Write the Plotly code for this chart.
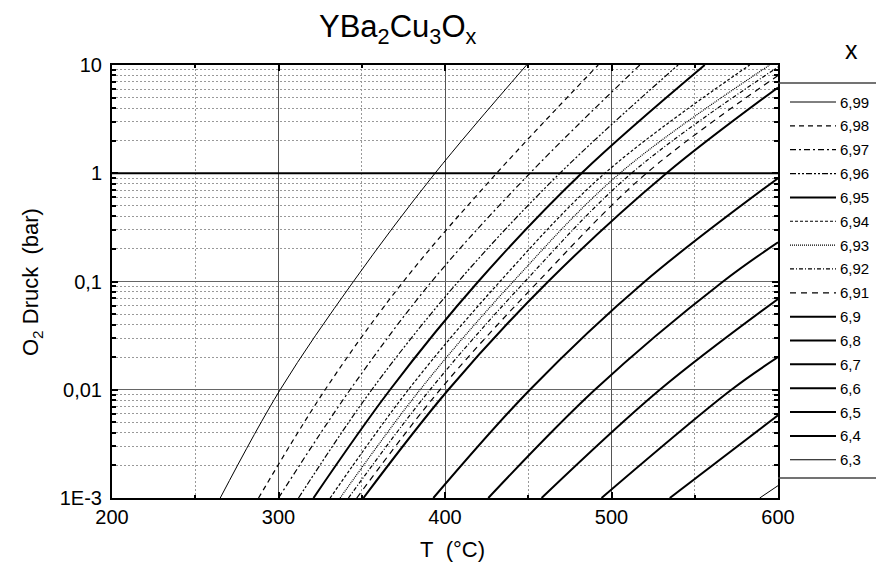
import plotly.graph_objects as go

# ---------------- data ----------------
labels = ["6,99", "6,98", "6,97", "6,96", "6,95", "6,94", "6,93", "6,92",
          "6,91", "6,9", "6,8", "6,7", "6,6", "6,5", "6,4", "6,3"]

P_dec = [0.001, 0.01, 0.1, 1, 10]

T_699 = [265, 301, 345, 394, 449]
T_698 = [288, 328, 375, 431, 492]
T_697 = [300, 343, 392, 451, 517]
T_696 = [312, 356, 408, 469, 540]
T_695 = [321, 367, 420, 482, 556]
T_694 = [331, 378, 433, 496, 583]
T_693 = [337, 385, 441, 505, 595]
T_692 = [342, 391, 448, 512, 600]
P_692 = [0.001, 0.01, 0.1, 1, 9.6]
T_691 = [347, 397, 456, 521, 600]
P_691 = [0.001, 0.01, 0.1, 1, 8.0]
T_690 = [351, 402, 462, 533, 600]
P_690 = [0.001, 0.01, 0.1, 1, 6.2]
T_68 = [393, 451, 520, 600]
P_68 = [0.001, 0.01, 0.1, 0.9]
T_67 = [426, 490, 567, 600]
P_67 = [0.001, 0.01, 0.1, 0.23]
T_66 = [458, 529, 600]
P_66 = [0.001, 0.01, 0.069]
T_65 = [494, 572, 600]
P_65 = [0.001, 0.01, 0.02]
T_64 = [535, 600]
P_64 = [0.001, 0.0058]
T_63 = [589, 600]
P_63 = [0.001, 0.0013]

x_ticks = [200, 300, 400, 500, 600]
x_minor = [250, 350, 450, 550]
y_ticks = [0.001, 0.01, 0.1, 1, 10]
y_ticktext = ["1E-3", "0,01", "0,1", "1", "10"]

# ---------------- styles ----------------
series = [
    (T_699, P_dec, "solid", 1.0),
    (T_698, P_dec, "5px,4px", 1.2),
    (T_697, P_dec, "6px,3px,2px,3px", 1.2),
    (T_696, P_dec, "6px,2px,2px,2px,2px,2px", 1.2),
    (T_695, P_dec, "solid", 2.0),
    (T_694, P_dec, "3px,2px", 1.2),
    (T_693, P_dec, "1px,1px", 1.2),
    (T_692, P_692, "4px,2px,1px,2px", 1.2),
    (T_691, P_691, "6px,5px", 1.2),
    (T_690, P_690, "solid", 2.0),
    (T_68, P_68, "solid", 2.0),
    (T_67, P_67, "solid", 2.0),
    (T_66, P_66, "solid", 2.0),
    (T_65, P_65, "solid", 2.0),
    (T_64, P_64, "solid", 2.0),
    (T_63, P_63, "solid", 1.0),
]

FONT = "Arial, Liberation Sans, sans-serif"
W, H = 876, 574
L, R, T, B = 112, 98, 65, 76
pw, ph = W - L - R, H - T - B


def px2x(px):
    return (px - L) / pw


def py2y(py):
    return (H - B - py) / ph


fig = go.Figure()
for (tx, py, dash, w), name in zip(series, labels):
    fig.add_trace(go.Scatter(x=tx, y=py, mode="lines", name=name,
                             line=dict(color="black", width=w, dash=dash,
                                       shape="spline", smoothing=1.0),
                             showlegend=False, hoverinfo="skip"))

shapes = []
annotations = []

# bold reference line at 1 bar
shapes.append(dict(type="line", xref="paper", yref="y", x0=0, x1=1, y0=1, y1=1,
                   line=dict(color="black", width=2)))

# legend box (top, bottom)
top_y, bot_y = py2y(83), py2y(478)
shapes.append(dict(type="line", xref="paper", yref="paper", x0=1, x1=1.2, y0=top_y, y1=top_y,
                   line=dict(color="#444", width=1.5)))
shapes.append(dict(type="line", xref="paper", yref="paper", x0=1, x1=1.2, y0=bot_y, y1=bot_y,
                   line=dict(color="#444", width=1.5)))

for i, ((tx, py, dash, w), name) in enumerate(zip(series, labels)):
    yy = py2y(102 + i * 23.85)
    shapes.append(dict(type="line", xref="paper", yref="paper",
                       x0=px2x(790), x1=px2x(836), y0=yy, y1=yy,
                       line=dict(color="black", width=w, dash=dash)))
    annotations.append(dict(x=px2x(838), y=yy, xref="paper", yref="paper",
                            text=name, showarrow=False, xanchor="left", yanchor="middle",
                            font=dict(family=FONT, size=15, color="black")))

# title
annotations.append(dict(x=px2x(398), y=py2y(29), xref="paper", yref="paper",
                        text="YBa<sub>2</sub>Cu<sub>3</sub>O<sub>x</sub>", showarrow=False,
                        xanchor="center", yanchor="middle",
                        font=dict(family=FONT, size=31, color="black")))
# legend header "x"
annotations.append(dict(x=px2x(851), y=py2y(50), xref="paper", yref="paper",
                        text="x", showarrow=False, xanchor="center", yanchor="middle",
                        font=dict(family=FONT, size=25, color="black")))
# axis titles
annotations.append(dict(x=px2x(32), y=py2y(282), xref="paper", yref="paper",
                        text="O<sub>2</sub> Druck\u00a0\u00a0(bar)", showarrow=False,
                        textangle=-90, xanchor="center", yanchor="middle",
                        font=dict(family=FONT, size=22, color="black")))
annotations.append(dict(x=px2x(452), y=py2y(549), xref="paper", yref="paper",
                        text="T\u00a0\u00a0(°C)", showarrow=False,
                        xanchor="center", yanchor="middle",
                        font=dict(family=FONT, size=22, color="black")))

y_minor = [k * 10.0 ** e for e in range(-3, 1) for k in range(2, 10)]

fig.update_layout(
    width=W, height=H,
    margin=dict(l=L, r=R, t=T, b=B),
    paper_bgcolor="white", plot_bgcolor="white",
    showlegend=False,
    shapes=shapes, annotations=annotations,
    font=dict(family=FONT, color="black"),
    xaxis=dict(range=[200, 600], tickvals=x_ticks, ticks="inside", ticklen=6, tickwidth=2,
               tickcolor="black", showline=True, linecolor="black", linewidth=2, mirror="allticks",
               showgrid=True, gridcolor="#555", gridwidth=1.3,
               tickfont=dict(family=FONT, size=20, color="black"),
               zeroline=False,
               minor=dict(tickvals=x_minor, ticks="inside", ticklen=3, tickcolor="black",
                          showgrid=True, gridcolor="#999", griddash="2px,2px", gridwidth=1)),
    yaxis=dict(type="log", range=[-3, 1], tickvals=y_ticks, ticktext=y_ticktext,
               ticks="inside", ticklen=6, tickwidth=2, tickcolor="black",
               showline=True, linecolor="black", linewidth=2, mirror="allticks",
               showgrid=True, gridcolor="#666", gridwidth=1.2,
               tickfont=dict(family=FONT, size=20, color="black"),
               ticklabelstandoff=4,
               zeroline=False,
               minor=dict(tickvals=y_minor, ticks="inside", ticklen=4, tickcolor="black",
                          showgrid=True, gridcolor="#999", griddash="2px,2px", gridwidth=1)),
)

fig.write_html("out.html")
